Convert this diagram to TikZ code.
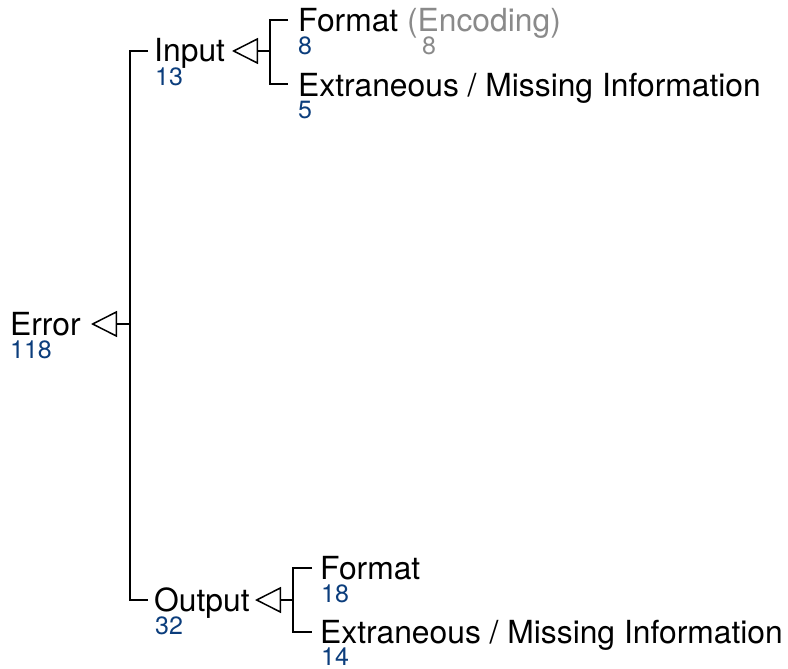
\documentclass[tikz,border=0pt]{standalone}
\usepackage{fontspec}
\setmainfont{TeX Gyre Heros}
\usetikzlibrary{arrows.meta}
\definecolor{numblue}{HTML}{0B3D7C}
\definecolor{encgray}{HTML}{8A8A8A}
\begin{document}
\begin{tikzpicture}[x=1pt,y=-1pt,
  lbl/.style={anchor=base west,inner sep=0pt,font=\fontsize{31.8}{36}\selectfont},
  num/.style={anchor=base west,inner sep=0pt,text=numblue,font=\fontsize{25}{30}\selectfont},
  conn/.style={line width=1.5pt,black},
  tri/.style={conn,-{Triangle[open,length=26pt,width=26pt]}}]
\useasboundingbox (0,0) rectangle (788,669);
% labels
\node[lbl] (err) at (10,335) {Error};
\node[num] (errn) at (10,358) {118};
\node[lbl] (inp) at (154,62) {Input};
\node[num] (inpn) at (155,85) {13};
\node[lbl] (ifmt) at (298,32) {Format \textcolor{encgray}{(Encoding)}};
\node[num] (ifmtn) at (298,55) {8};
\node[num,text=encgray] (encn) at (422,55) {8};
\node[lbl] (iext) at (298,96) {Extraneous / Missing Information};
\node[num] (iextn) at (298,118) {5};
\node[lbl] (out) at (154,611) {Output};
\node[num] (outn) at (155,634) {32};
\node[lbl] (ofmt) at (320,579) {Format};
\node[num] (ofmtn) at (321,602) {18};
\node[lbl] (oext) at (320,643) {Extraneous / Missing Information};
\node[num] (oextn) at (321,665.5) {14};
% junctions and ticks
\coordinate (eJ) at (130,324);
\coordinate (eTip) at (91,324);
\coordinate (iT) at (148,51);
\coordinate (oT) at (148,600);
\coordinate (iJ) at (270,51);
\coordinate (iTip) at (232,51);
\coordinate (ifT) at (288,20);
\coordinate (ieT) at (288,84);
\coordinate (oJ) at (293,600);
\coordinate (oTip) at (255,600);
\coordinate (ofT) at (312,568);
\coordinate (oeT) at (312,632);
% tree lines
\draw[conn] (iT) -| (eJ) |- (oT);
\draw[tri] (eJ) -- (eTip);
\draw[conn] (ifT) -| (iJ) |- (ieT);
\draw[tri] (iJ) -- (iTip);
\draw[conn] (ofT) -| (oJ) |- (oeT);
\draw[tri] (oJ) -- (oTip);
\end{tikzpicture}
\end{document}
